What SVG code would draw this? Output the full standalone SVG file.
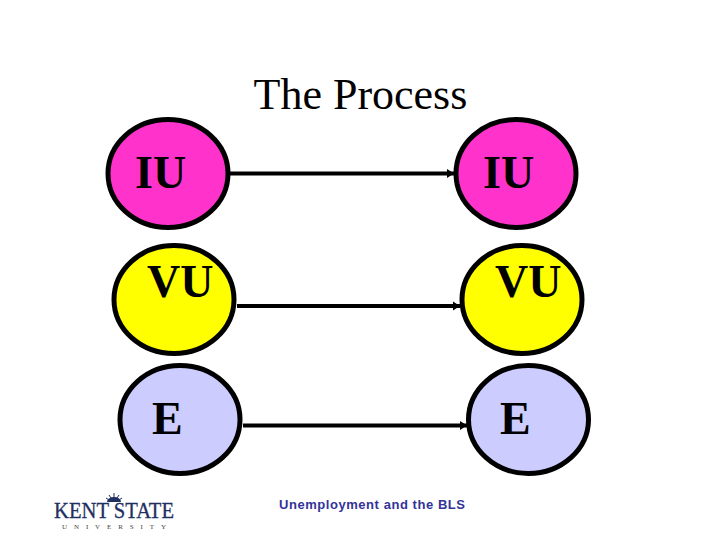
<svg xmlns="http://www.w3.org/2000/svg" width="720" height="540" viewBox="0 0 720 540">
<style>
.c{stroke:#000;stroke-width:5}
.p{fill:#ff33cc}.y{fill:#ffff00}.b{fill:#ccccff}
.l{font:bold 46px "Liberation Serif","Times New Roman",serif;fill:#000}
.k{stroke:#000;stroke-width:4;fill:none;marker-end:url(#a)}
</style>
<defs><marker id="a" markerUnits="userSpaceOnUse" markerWidth="8" markerHeight="10" refX="7" refY="5" orient="auto"><path d="M0 0.500L7 5L0 9.500Z" fill="#000"/></marker></defs>
<rect width="720" height="540" fill="#fff"/>
<text x="253.500" y="109" font-family="'Liberation Serif',serif" font-size="44">The Process</text>
<g id="connectors">
<path class="k" d="M230 173.500H454"/>
<path class="k" d="M237 306H460"/>
<path class="k" d="M243 425.500H467"/>
</g>
<g id="iu-left"><ellipse class="c p" cx="168" cy="173.500" rx="60" ry="54"/><text class="l" x="135" y="188">IU</text></g>
<g id="iu-right"><ellipse class="c p" cx="516" cy="173.500" rx="60" ry="54"/><text class="l" x="483" y="188">IU</text></g>
<g id="vu-left"><ellipse class="c y" cx="174" cy="299.500" rx="60" ry="54"/><text class="l" x="147" y="297">VU</text></g>
<g id="vu-right"><ellipse class="c y" cx="522" cy="299.500" rx="60" ry="54"/><text class="l" x="495" y="297">VU</text></g>
<g id="e-left"><ellipse class="c b" cx="180" cy="419.500" rx="60" ry="54"/><text class="l" x="152" y="434">E</text></g>
<g id="e-right"><ellipse class="c b" cx="528.500" cy="419.500" rx="60" ry="54"/><text class="l" x="500" y="434">E</text></g>
<text x="279" y="509" font-family="'Liberation Sans',Arial,sans-serif" font-size="13" font-weight="bold" textLength="186" fill="#333399">Unemployment and the BLS</text>
<g id="logo" fill="#1f2f5f">
<path d="M107 502a7 5 0 0 1 14 0Z"/>
<path d="M114 493V497M109 495L111 498M119 495L117 498M106 498L109 500M122 498L119 500" stroke="#1f2f5f" stroke-width="1"/>
<text x="54" y="518" font-family="'Liberation Serif',serif" font-size="23" stroke="#1f2f5f" stroke-width="0.300" textLength="120" lengthAdjust="spacingAndGlyphs">KENT STATE</text>
<text x="62" y="529" font-family="'Liberation Serif',serif" font-size="7" textLength="104" fill="#444">UNIVERSITY</text>
</g>
</svg>
